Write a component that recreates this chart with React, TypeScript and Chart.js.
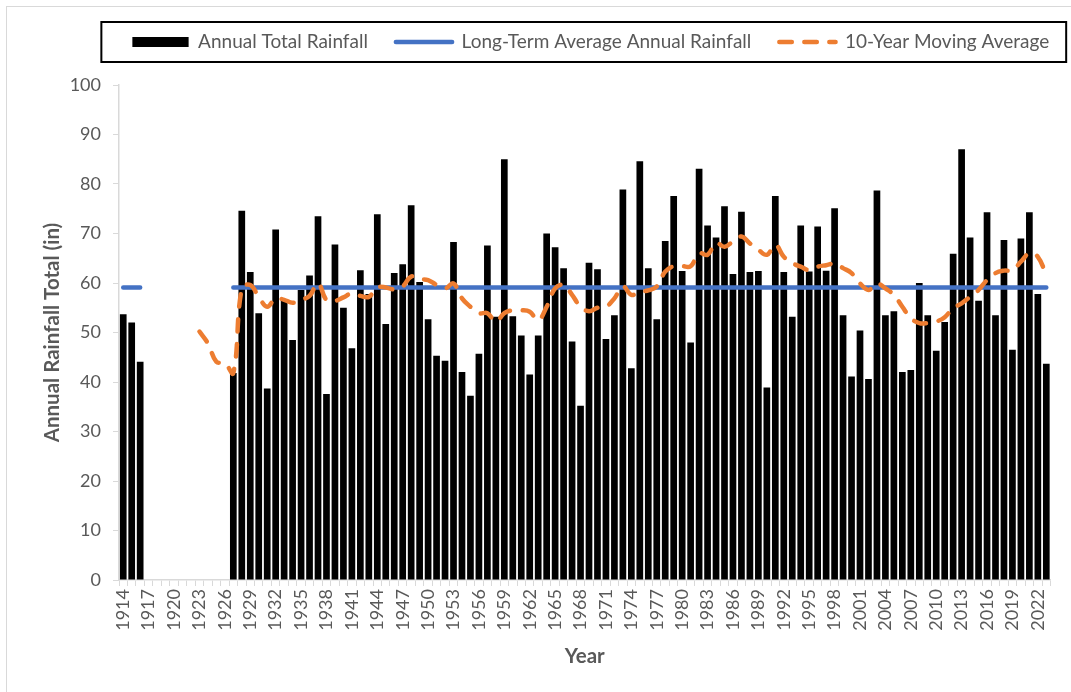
import React, { useEffect, useRef } from 'react';
import { Chart, registerables } from 'chart.js';

Chart.register(...registerables);

const YEARS: string[] = [
  '1914', '1915', '1916', '1917', '1918', '1919', '1920', '1921', '1922', '1923',
  '1924', '1925', '1926', '1927', '1928', '1929', '1930', '1931', '1932', '1933',
  '1934', '1935', '1936', '1937', '1938', '1939', '1940', '1941', '1942', '1943',
  '1944', '1945', '1946', '1947', '1948', '1949', '1950', '1951', '1952', '1953',
  '1954', '1955', '1956', '1957', '1958', '1959', '1960', '1961', '1962', '1963',
  '1964', '1965', '1966', '1967', '1968', '1969', '1970', '1971', '1972', '1973',
  '1974', '1975', '1976', '1977', '1978', '1979', '1980', '1981', '1982', '1983',
  '1984', '1985', '1986', '1987', '1988', '1989', '1990', '1991', '1992', '1993',
  '1994', '1995', '1996', '1997', '1998', '1999', '2000', '2001', '2002', '2003',
  '2004', '2005', '2006', '2007', '2008', '2009', '2010', '2011', '2012', '2013',
  '2014', '2015', '2016', '2017', '2018', '2019', '2020', '2021', '2022', '2023',
];

const TICK_LABELS: string[] = [
  '1914', '1917', '1920', '1923', '1926', '1929', '1932', '1935', '1938', '1941',
  '1944', '1947', '1950', '1953', '1956', '1959', '1962', '1965', '1968', '1971',
  '1974', '1977', '1980', '1983', '1986', '1989', '1992', '1995', '1998', '2001',
  '2004', '2007', '2010', '2013', '2016', '2019', '2022',
];

const ANNUAL_RAINFALL: (number | null)[] = [
  53.7, 52.0, 44.1, null, null, null, null, null, null, null,
  null, null, null, 41.8, 74.6, 62.2, 53.9, 38.7, 70.8, 56.7,
  48.5, 58.6, 61.5, 73.5, 37.6, 67.8, 55.0, 46.8, 62.6, 57.8,
  73.9, 51.7, 62.0, 63.8, 75.7, 60.2, 52.7, 45.3, 44.3, 68.3,
  42.0, 37.2, 45.7, 67.6, 53.2, 85.0, 53.3, 49.4, 41.5, 49.4,
  70.0, 67.2, 63.0, 48.2, 35.2, 64.1, 62.8, 48.7, 53.5, 78.9,
  42.8, 84.6, 63.0, 52.7, 68.5, 77.6, 62.4, 48.0, 83.1, 71.6,
  69.2, 75.5, 61.8, 74.4, 62.2, 62.4, 38.9, 77.6, 62.2, 53.2,
  71.6, 62.3, 71.4, 62.5, 75.1, 53.5, 41.1, 50.4, 40.6, 78.7,
  53.5, 54.3, 42.0, 42.4, 60.0, 53.5, 46.3, 52.1, 65.9, 87.0,
  69.2, 56.4, 74.3, 53.5, 68.7, 46.5, 69.0, 74.3, 57.8, 43.7,
];

const LONG_TERM_AVERAGE = 59.1;

const MOVING_AVERAGE: (number | null)[] = [
  null, null, null, null, null, null, null, null, null, 50.2,
  47.8, 44.1, 43.8, 41.8, 58.9, 59.6, 57.2, 55.2, 56.9, 56.6,
  56.0, 56.6, 57.4, 59.9, 56.6, 56.4, 57.1, 57.9, 57.4, 57.2,
  59.1, 59.1, 58.7, 59.3, 61.3, 60.8, 60.6, 59.6, 58.9, 59.9,
  56.9, 55.2, 53.9, 53.9, 52.2, 53.9, 54.5, 54.5, 54.2, 52.5,
  55.2, 58.9, 59.6, 57.6, 55.2, 54.3, 55.0, 55.2, 56.9, 59.3,
  57.6, 58.2, 58.5, 59.3, 62.3, 63.4, 63.4, 63.4, 66.0, 65.7,
  68.1, 67.3, 68.4, 69.4, 68.0, 66.7, 65.7, 67.7, 65.3, 64.0,
  63.3, 62.6, 63.3, 63.6, 63.9, 63.0, 62.0, 59.9, 58.6, 59.9,
  58.9, 57.6, 55.2, 52.9, 51.9, 51.9, 52.2, 53.1, 54.9, 55.9,
  57.2, 58.6, 60.6, 62.0, 62.5, 62.6, 64.3, 66.0, 65.3, 61.6,
];

const SERIES_NAMES = ['Annual Total Rainfall', 'Long-Term Average Annual Rainfall', '10-Year Moving Average'];

const TEXT_COLOR = '#595959';
const AXIS_COLOR = '#D9D9D9';
const BLUE = '#4472C4';
const ORANGE = '#ED7D31';
const LEGEND_FONT = 19;
const LEGEND_PADDING = 28;
const LEGEND_EXTRA = 23.5;
const LEGEND_SHIFT = 6;

const legendFrame = {
  id: 'legendFrame',
  beforeLayout(chart: any) {
    const lg = chart.legend;
    if (lg && !lg.__patched) {
      const origFit = lg.fit;
      lg.fit = function () {
        const mw = this.maxWidth;
        this.maxWidth = 3000;
        origFit.call(this);
        this.maxWidth = mw;
        this.width = mw;
        this.height += LEGEND_EXTRA;
      };
      const origDraw = lg.draw;
      lg.draw = function () {
        const l = this.left;
        const r = this.right;
        this.left = l - 500 + 2 * LEGEND_SHIFT;
        this.right = r + 500;
        origDraw.call(this);
        this.left = l;
        this.right = r;
      };
      lg.__patched = true;
    }
  },
  afterDraw(chart: any) {
    const lg = chart.legend;
    const boxes = lg && lg.legendHitBoxes;
    if (!boxes || !boxes.length) return;
    const first = boxes[0];
    const last = boxes[boxes.length - 1];
    const cy = first.top + first.height / 2;
    const ctx = chart.ctx;
    ctx.save();
    ctx.strokeStyle = '#000000';
    ctx.lineWidth = 2;
    const left = first.left + LEGEND_SHIFT - 31;
    const right = last.left + last.width + LEGEND_SHIFT + 17;
    ctx.strokeRect(left, cy - 20, right - left, 40);
    ctx.restore();
  },
};

export default function App() {
  const canvasRef = useRef<HTMLCanvasElement | null>(null);

  useEffect(() => {
    if (!canvasRef.current) return;
    Chart.defaults.font.family = 'Lato, "Open Sans", sans-serif';
    const longTerm = ANNUAL_RAINFALL.map((v) => (v === null ? null : LONG_TERM_AVERAGE));

    const chart = new Chart(canvasRef.current, {
      type: 'bar',
      data: {
        labels: YEARS,
        datasets: [
          {
            type: 'bar',
            label: SERIES_NAMES[0],
            data: ANNUAL_RAINFALL,
            backgroundColor: '#000000',
            borderWidth: 0,
            barPercentage: 0.79,
            categoryPercentage: 1.0,
            order: 3,
          },
          {
            type: 'line',
            label: SERIES_NAMES[1],
            data: longTerm,
            borderColor: BLUE,
            backgroundColor: BLUE,
            borderWidth: 4.5,
            borderCapStyle: 'round',
            pointRadius: 0,
            spanGaps: false,
            tension: 0,
            order: 2,
          },
          {
            type: 'line',
            label: SERIES_NAMES[2],
            data: MOVING_AVERAGE,
            borderColor: ORANGE,
            backgroundColor: ORANGE,
            borderWidth: 4.5,
            borderDash: [12.5, 12.5],
            borderCapStyle: 'round',
            borderJoinStyle: 'round',
            pointRadius: 0,
            spanGaps: false,
            tension: 0.4,
            order: 1,
          },
        ] as any,
      },
      options: {
        responsive: false,
        animation: false,
        events: [],
        layout: { padding: { top: 6 + (16 - LEGEND_FONT) / 2, left: 0, right: 15, bottom: 0 } },
        plugins: {
          tooltip: { enabled: false },
          legend: {
            display: true,
            position: 'top',
            fullSize: false,
            labels: {
              boxWidth: 56.25,
              boxHeight: 0,
              padding: LEGEND_PADDING,
              color: TEXT_COLOR,
              font: { size: LEGEND_FONT },
              generateLabels: () => [
                {
                  text: SERIES_NAMES[0],
                  fillStyle: 'rgba(0,0,0,0)',
                  strokeStyle: '#000000',
                  lineWidth: 10,
                  lineCap: 'butt',
                  lineJoin: 'miter',
                  lineDash: [],
                  lineDashOffset: 0,
                  hidden: false,
                  datasetIndex: 0,
                  fontColor: TEXT_COLOR,
                },
                {
                  text: SERIES_NAMES[1],
                  fillStyle: 'rgba(0,0,0,0)',
                  strokeStyle: BLUE,
                  lineWidth: 4.5,
                  lineCap: 'round',
                  lineJoin: 'round',
                  lineDash: [],
                  lineDashOffset: 0,
                  hidden: false,
                  datasetIndex: 1,
                  fontColor: TEXT_COLOR,
                },
                {
                  text: SERIES_NAMES[2],
                  fillStyle: 'rgba(0,0,0,0)',
                  strokeStyle: ORANGE,
                  lineWidth: 4.5,
                  lineCap: 'round',
                  lineJoin: 'round',
                  lineDash: [12.5, 12.5],
                  lineDashOffset: 0,
                  hidden: false,
                  datasetIndex: 2,
                  fontColor: TEXT_COLOR,
                },
              ] as any,
            },
          },
        },
        scales: {
          x: {
            grid: {
              display: true,
              drawOnChartArea: false,
              drawTicks: true,
              tickLength: 6,
              color: AXIS_COLOR,
              offset: true,
            },
            border: { display: true, color: AXIS_COLOR, width: 1.5 },
            ticks: {
              autoSkip: false,
              minRotation: 90,
              maxRotation: 90,
              padding: 3,
              color: TEXT_COLOR,
              font: { size: 18 },
              callback: (_v: any, i: number) => (TICK_LABELS.includes(YEARS[i]) ? YEARS[i] : ''),
            },
            title: {
              display: true,
              text: 'Year',
              color: TEXT_COLOR,
              font: { size: 20.5, weight: 'bold' },
              padding: { top: 0, bottom: 23 },
            },
            afterFit: (s: any) => {
              s.height = 112;
            },
          },
          y: {
            min: 0,
            max: 100,
            grid: {
              display: true,
              drawOnChartArea: false,
              drawTicks: true,
              tickLength: 6,
              color: AXIS_COLOR,
            },
            border: { display: true, color: AXIS_COLOR, width: 1.5 },
            ticks: {
              stepSize: 10,
              padding: 12,
              color: TEXT_COLOR,
              font: { size: 18 },
            },
            title: {
              display: true,
              text: 'Annual Rainfall Total (in)',
              color: TEXT_COLOR,
              font: { size: 20.5, weight: 'bold' },
              padding: { top: 40, bottom: 0 },
            },
            afterFit: (s: any) => {
              s.width = 119;
            },
          },
        },
      } as any,
      plugins: [legendFrame],
    });

    return () => {
      chart.destroy();
    };
  }, []);

  return (
    <div
      style={{
        position: 'absolute',
        left: 0,
        top: 0,
        width: 1071,
        height: 692,
        overflow: 'hidden',
        background: '#ffffff',
      }}
    >
      <div
        style={{
          position: 'absolute',
          left: 6,
          top: 6,
          width: 1200,
          height: 1000,
          border: '1px solid #D9D9D9',
        }}
      />
      <canvas
        ref={canvasRef}
        width={1071}
        height={692}
        style={{ position: 'absolute', left: 0, top: 0, width: 1071, height: 692 }}
      />
    </div>
  );
}
